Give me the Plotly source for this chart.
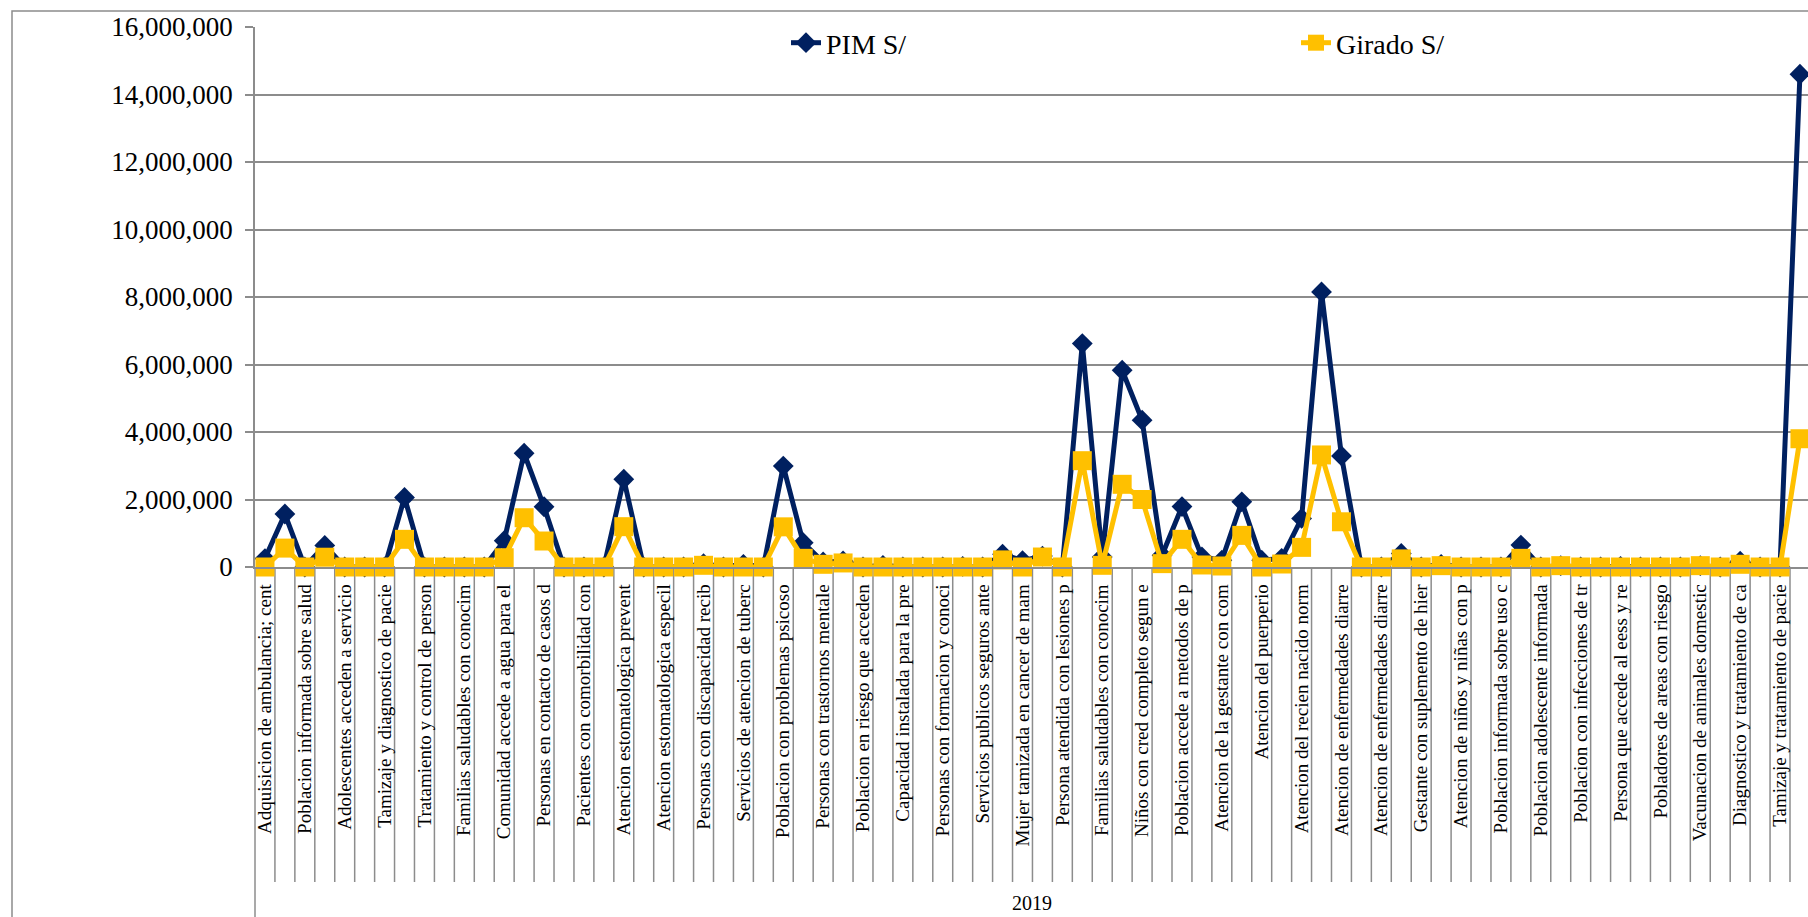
import plotly.graph_objects as go

# Tick labels shown on the category axis (every other category is labelled)
labels = [
    "Adquisicion de ambulancia; cent", "Poblacion informada sobre salud",
    "Adolescentes acceden a servicio", "Tamizaje y diagnostico de pacie",
    "Tratamiento y control de person", "Familias saludables con conocim",
    "Comunidad accede a agua para el", "Personas en contacto de casos d",
    "Pacientes con comorbilidad con", "Atencion estomatologica prevent",
    "Atencion estomatologica especil", "Personas con discapacidad recib",
    "Servicios de atencion de tuberc", "Poblacion con problemas psicoso",
    "Personas con trastornos mentale", "Poblacion en riesgo que acceden",
    "Capacidad instalada para la pre", "Personas con formacion y conoci",
    "Servicios publicos seguros ante", "Mujer tamizada en cancer de mam",
    "Persona atendida con lesiones p", "Familias saludables con conocim",
    "Niños con cred completo segun e", "Poblacion accede a metodos de p",
    "Atencion de la gestante con com", "Atencion del puerperio",
    "Atencion del recien nacido norm", "Atencion de enfermedades diarre",
    "Atencion de enfermedades diarre", "Gestante con suplemento de hier",
    "Atencion de niños y niñas con p", "Poblacion informada sobre uso c",
    "Poblacion adolescente informada", "Poblacion con infecciones de tr",
    "Persona que accede al eess y re", "Pobladores de areas con riesgo",
    "Vacunacion de animales domestic", "Diagnostico y tratamiento de ca",
    "Tamizaje y tratamiento de pacie",
]

pim = [
    250000, 1570000, 0, 640000, 0, 0, 0, 2060000, 0, 0,
    0, 0, 780000, 3370000, 1785000, 0, 0, 0, 2600000, 0,
    0, 0, 100000, 0, 80000, 0, 2990000, 720000, 150000, 180000,
    0, 50000, 0, 0, 0, 20000, 0, 380000, 190000, 325000,
    0, 6620000, 300000, 5830000, 4350000, 350000, 1790000, 300000, 200000, 1930000,
    200000, 257000, 1440000, 8150000, 3290000, 0, 0, 400000, 0, 80000,
    0, 0, 0, 650000, 0, 40000, 0, 0, 20000, 0,
    0, 0, 40000, 0, 170000, 0, 0, 14600000,
]

girado = [
    0, 560000, 0, 290000, 0, 0, 0, 820000, 0, 0,
    0, 0, 275000, 1460000, 770000, 0, 0, 0, 1195000, 0,
    0, 0, 50000, 0, 0, 0, 1190000, 257000, 80000, 120000,
    0, 0, 0, 0, 0, 0, 0, 210000, 0, 296000,
    0, 3150000, 50000, 2450000, 2000000, 100000, 820000, 60000, 30000, 937000,
    0, 89000, 582000, 3320000, 1340000, 0, 0, 240000, 0, 40000,
    0, 0, 0, 257000, 0, 40000, 0, 0, 0, 0,
    0, 0, 40000, 0, 80000, 0, 0, 3800000,
]

group_label = "2019"
series_names = ["PIM S/", "Girado S/"]

n = len(pim)
x = list(range(n))

NAVY = "#002060"
GOLD = "#FFC000"
GRID = "#8C8C8C"
FONT = "Liberation Serif, Times New Roman, Times, serif"

W, H = 1808, 917
L, R, T, B = 255, 0, 27, 350
pw, ph = W - L - R, H - T - B

fig = go.Figure()
fig.add_trace(go.Scatter(
    x=x, y=pim, name=series_names[0], mode="lines+markers",
    line=dict(color=NAVY, width=5),
    marker=dict(symbol="diamond", size=16, color=NAVY),
    cliponaxis=False, legend="legend",
))
fig.add_trace(go.Scatter(
    x=x, y=girado, name=series_names[1], mode="lines+markers",
    line=dict(color=GOLD, width=5),
    marker=dict(symbol="square", size=19, color=GOLD),
    cliponaxis=False, legend="legend2",
))

spacing = 19.935
xmax = -0.5 + pw / spacing

shapes = []
# category separators below the axis
for k in range(1, n):
    shapes.append(dict(type="line", xref="x", yref="paper",
                       x0=k - 0.5, x1=k - 0.5, y0=-(882 - 567) / ph, y1=0,
                       line=dict(color=GRID, width=1.5), layer="below"))
# left boundary of category axis extends to bottom
shapes.append(dict(type="line", xref="paper", yref="paper",
                   x0=0, x1=0, y0=-(H - 567) / ph - 0.05, y1=0,
                   line=dict(color=GRID, width=1.5)))
# outer chart border
shapes.append(dict(type="rect", xref="paper", yref="paper",
                   x0=(12 - L) / pw, x1=1.05, y0=-1.0, y1=(567 - 11) / ph,
                   line=dict(color=GRID, width=1.5), fillcolor="rgba(0,0,0,0)"))

fig.update_layout(
    width=W, height=H,
    margin=dict(l=L, r=R, t=T, b=B, pad=0),
    paper_bgcolor="white", plot_bgcolor="white",
    font=dict(family=FONT, color="black"),
    shapes=shapes,
    showlegend=True,
    legend=dict(x=(786 - L) / pw, y=(567 - 43) / ph, xanchor="left", yanchor="middle",
                font=dict(size=28, family=FONT), bgcolor="rgba(0,0,0,0)"),
    legend2=dict(x=(1296 - L) / pw, y=(567 - 43) / ph, xanchor="left", yanchor="middle",
                 font=dict(size=28, family=FONT), bgcolor="rgba(0,0,0,0)"),
    xaxis=dict(
        range=[-0.5, xmax], tickmode="array",
        tickvals=x[::2], ticktext=labels,
        tickangle=-90, tickfont=dict(size=19, family=FONT),
        ticks="", showgrid=False, zeroline=False,
        showline=True, linecolor=GRID, linewidth=1.5,
        ticklabelstandoff=8,
    ),
    yaxis=dict(
        range=[0, 16000000], tick0=0, dtick=2000000, tickformat=",d",
        tickfont=dict(size=27, family=FONT),
        ticks="outside", ticklen=8, tickcolor=GRID, tickwidth=1.5,
        showgrid=True, gridcolor=GRID, gridwidth=1.5,
        zeroline=False, showline=True, linecolor=GRID, linewidth=1.5,
        ticklabelstandoff=7,
    ),
    annotations=[dict(text=group_label, xref="paper", yref="paper",
                      x=0.5, y=-(903 - 567) / ph, xanchor="center", yanchor="middle",
                      showarrow=False, font=dict(size=20, family=FONT))],
)

fig.write_html("out.html", config={"displayModeBar": False},
               post_script="document.body.style.margin='0';document.body.style.overflow='hidden';")
